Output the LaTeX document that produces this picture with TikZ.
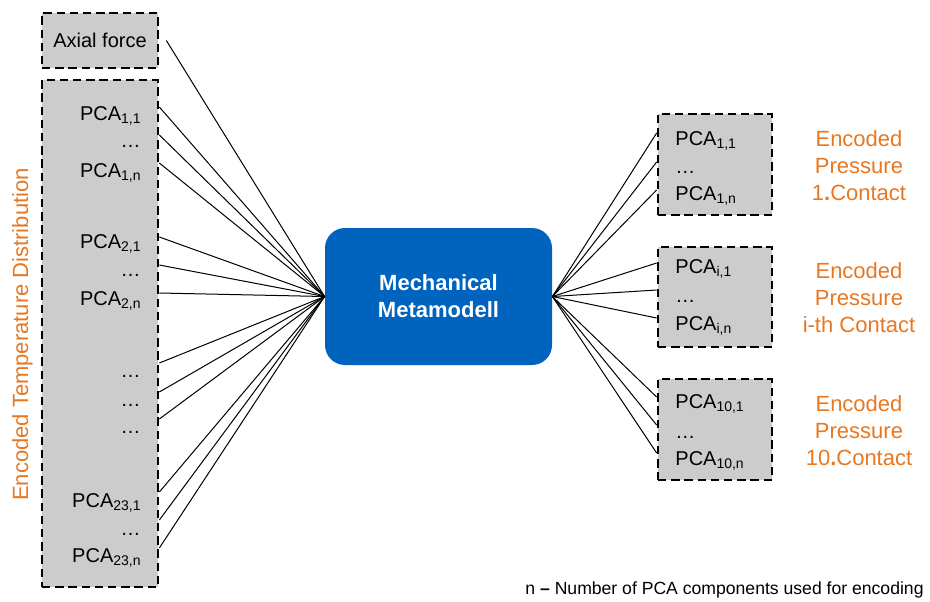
\documentclass[tikz,border=0pt]{standalone}
\usepackage{fontspec}
\setmainfont{Liberation Sans}
\usepackage{xcolor}
\usepackage{tikz}

\definecolor{metablue}{RGB}{0,99,190}
\definecolor{encorange}{RGB}{232,119,34}
\definecolor{boxgray}{RGB}{204,204,204}

\begin{document}
\begin{tikzpicture}[
    x=0.5pt, y=-0.5pt,
    group/.style={draw, fill=boxgray, line width=1.35pt, dash pattern=on 4.2pt off 2.4pt, inner sep=0pt, font=\fontsize{10}{12}\selectfont},
    entry/.style={inner sep=0pt, font=\fontsize{10}{12}\selectfont},
    meta/.style={fill=metablue, rounded corners=10pt, align=center, text=white, minimum width=113.5pt, minimum height=68.5pt, font=\bfseries\fontsize{11}{13.4}\selectfont},
    enc/.style={align=center, text=encorange, inner sep=0pt, font=\fontsize{11}{13.5}\selectfont},
    link/.style={line width=0.5pt}
]
\useasboundingbox (0,0) rectangle (930,601);

% inputs
\node[group, minimum width=58pt, minimum height=27.5pt] at (100,40.5) (axial) {Axial force};
\node[group, minimum width=58pt, minimum height=253.5pt] at (100,333.5) (temp) {};
\node[enc, rotate=90, anchor=base] at (28,334.5) (tempcap) {Encoded Temperature Distribution};

\node[entry, anchor=base east] at (142,120) (t11) {PCA\textsubscript{1,1}};
\node[entry, anchor=base east] at (141,147) (t1d) {…};
\node[entry, anchor=base east] at (142,177) (t1n) {PCA\textsubscript{1,n}};
\node[entry, anchor=base east] at (142,248) (t21) {PCA\textsubscript{2,1}};
\node[entry, anchor=base east] at (141,276) (t2d) {…};
\node[entry, anchor=base east] at (142,305) (t2n) {PCA\textsubscript{2,n}};
\node[entry, anchor=base east] at (141,377) (td1) {…};
\node[entry, anchor=base east] at (141,406) (td2) {…};
\node[entry, anchor=base east] at (141,433) (td3) {…};
\node[entry, anchor=base east] at (142,507) (t231) {PCA\textsubscript{23,1}};
\node[entry, anchor=base east] at (141,535) (t23d) {…};
\node[entry, anchor=base east] at (142,562) (t23n) {PCA\textsubscript{23,n}};

% metamodel
\node[meta] at (438.5,296.5) (model) {Mechanical\\Metamodell};

% outputs
\node[group, minimum width=57pt, minimum height=50.5pt] at (715,164.5) (p1) {};
\node[group, minimum width=57pt, minimum height=50pt] at (715,297) (pi) {};
\node[group, minimum width=57pt, minimum height=50.5pt] at (715,429.5) (p10) {};

\node[entry, anchor=base west] at (675,145) (p11) {PCA\textsubscript{1,1}};
\node[entry, anchor=base west] at (675,173) (p1d) {…};
\node[entry, anchor=base west] at (675,200) (p1n) {PCA\textsubscript{1,n}};
\node[entry, anchor=base west] at (675,273) (pi1) {PCA\textsubscript{i,1}};
\node[entry, anchor=base west] at (675,302) (pid) {…};
\node[entry, anchor=base west] at (675,330) (pin) {PCA\textsubscript{i,n}};
\node[entry, anchor=base west] at (675,408) (p101) {PCA\textsubscript{10,1}};
\node[entry, anchor=base west] at (675,438) (p10d) {…};
\node[entry, anchor=base west] at (675,465) (p10n) {PCA\textsubscript{10,n}};

\node[enc] at (859,165.5) (enc1) {Encoded\\Pressure\\1\textbf{.}Contact};
\node[enc] at (859,298) (enci) {Encoded\\Pressure\\i-th Contact};
\node[enc] at (859,430.5) (enc10) {Encoded\\Pressure\\10\textbf{.}Contact};

% links in
\draw[link] ([xshift=3.5pt]axial.east) -- (model.west);
\draw[link] (temp.east |- 0,107) -- (model.west);
\draw[link] (temp.east |- 0,135) -- (model.west);
\draw[link] (temp.east |- 0,163) -- (model.west);
\draw[link] (temp.east |- 0,237) -- (model.west);
\draw[link] (temp.east |- 0,265) -- (model.west);
\draw[link] (temp.east |- 0,293) -- (model.west);
\draw[link] (temp.east |- 0,363) -- (model.west);
\draw[link] (temp.east |- 0,392) -- (model.west);
\draw[link] (temp.east |- 0,419) -- (model.west);
\draw[link] (temp.east |- 0,492) -- (model.west);
\draw[link] (temp.east |- 0,520) -- (model.west);
\draw[link] (temp.east |- 0,548) -- (model.west);

% links out
\draw[link] (model.east) -- (p1.west |- 0,133);
\draw[link] (model.east) -- (p1.west |- 0,162);
\draw[link] (model.east) -- (p1.west |- 0,190);
\draw[link] (model.east) -- (pi.west |- 0,263);
\draw[link] (model.east) -- (pi.west |- 0,290);
\draw[link] (model.east) -- (pi.west |- 0,318);
\draw[link] (model.east) -- (p10.west |- 0,397);
\draw[link] (model.east) -- (p10.west |- 0,425);
\draw[link] (model.east) -- (p10.west |- 0,453);

\node[anchor=base west, inner sep=0pt, font=\fontsize{8.8}{10}\selectfont] at (525,594) (note) {n \textbf{–} Number of PCA components used for encoding};
\end{tikzpicture}
\end{document}
